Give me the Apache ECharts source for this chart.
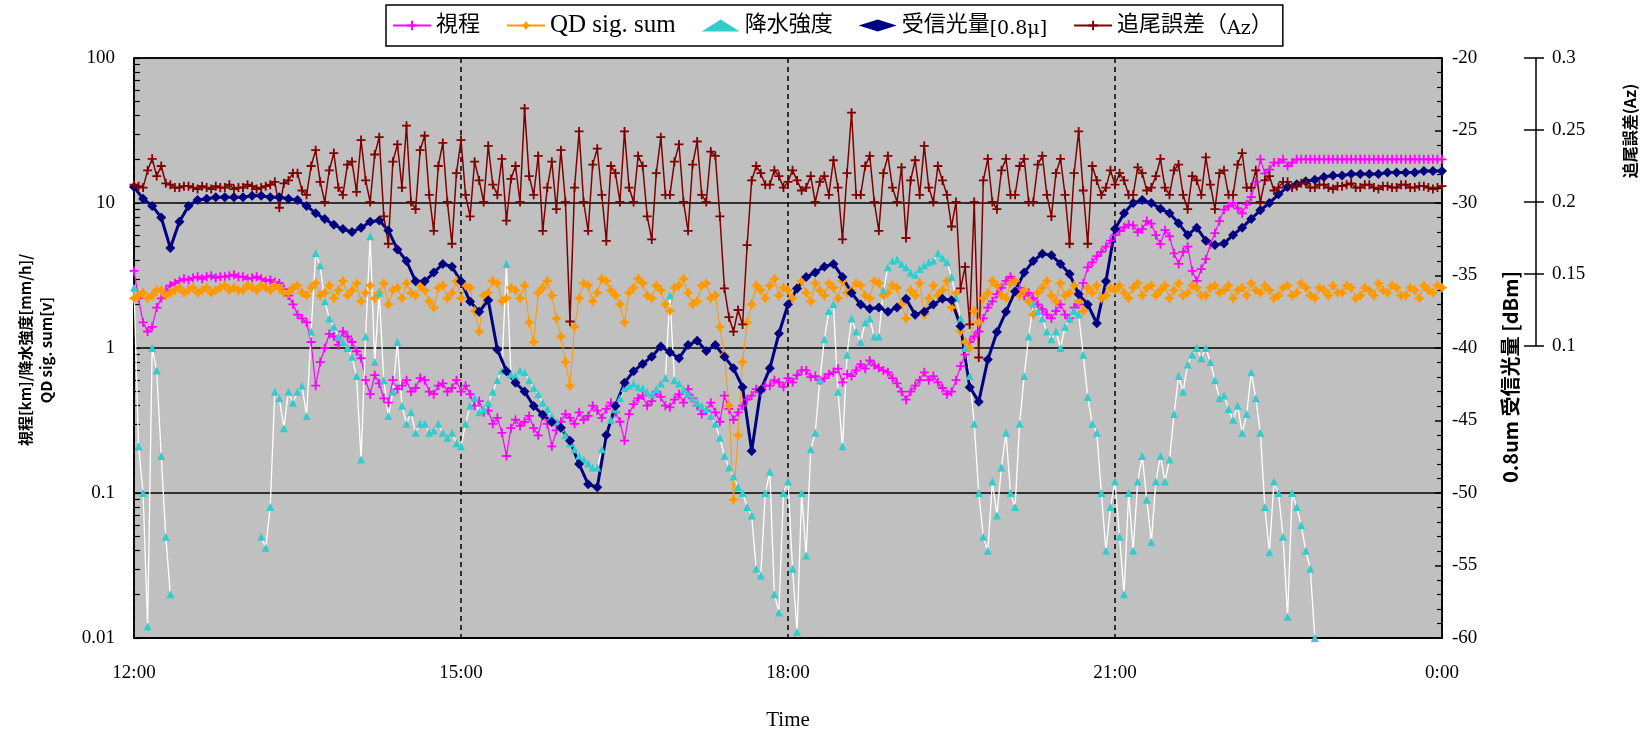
<!DOCTYPE html>
<html>
<head>
<meta charset="utf-8">
<script src="https://cdn.jsdelivr.net/npm/echarts@6/dist/echarts.min.js"></script>
<style>
  html, body { margin: 0; padding: 0; background: #fff; }
  #chart { width: 1644px; height: 736px; }
</style>
</head>
<body>
<div id="chart"></div>
<script>
// Time axis: minutes after 12:00, 0..720
const STEP_MIN = 5;      // received power
const STEP_FINE = 2.5;   // visibility, QD sum, rain rate, tracking error
const timeTickLabels = ['12:00', '15:00', '18:00', '21:00', '0:00'];

// 視程 [km], every 2.5 min (one row = 30 min)
const visibility = [
  3.4, 2.2, 1.5, 1.3, 1.4, 1.9, 2.2, 2.5, 2.7, 2.8, 2.9, 3.0,
  2.95, 3.05, 3.1, 3.0, 3.1, 3.15, 3.05, 3.1, 3.1, 3.15, 3.2, 3.1,
  3.1, 3.0, 3.05, 3.1, 3.0, 2.9, 2.95, 2.85, 2.8, 2.55, 2.3, 2.0,
  1.7, 1.6, 1.5, 1.1, 0.55, 0.8, 1.0, 1.25, 1.2, 1.05, 1.3, 1.2,
  1.1, 0.95, 0.85, 0.6, 0.48, 0.65, 0.57, 0.45, 0.42, 0.6, 0.52, 0.55,
  0.6, 0.5, 0.53, 0.62, 0.6, 0.5, 0.48, 0.55, 0.57, 0.5, 0.53, 0.6,
  0.5, 0.55, 0.48, 0.4, 0.43, 0.36, 0.37, 0.3, 0.33, 0.26, 0.18, 0.28,
  0.32, 0.29, 0.31, 0.34, 0.28, 0.25, 0.34, 0.3, 0.21, 0.27, 0.31, 0.35,
  0.33, 0.3, 0.36, 0.32, 0.34, 0.4, 0.37, 0.33, 0.38, 0.42, 0.36, 0.31,
  0.23, 0.35, 0.41, 0.45, 0.47, 0.4, 0.43, 0.5, 0.46, 0.4, 0.39, 0.44,
  0.48, 0.42, 0.52, 0.45, 0.4, 0.35, 0.37, 0.42, 0.36, 0.31, 0.47, 0.38,
  0.32, 0.36, 0.4, 0.44, 0.47, 0.52, 0.5, 0.55, 0.55, 0.6, 0.58, 0.54,
  0.62, 0.58, 0.65, 0.7, 0.7, 0.63, 0.64, 0.6, 0.62, 0.66, 0.68, 0.72,
  0.58, 0.66, 0.64, 0.7, 0.77, 0.72, 0.82, 0.76, 0.73, 0.7, 0.68, 0.62,
  0.57, 0.5, 0.44, 0.5, 0.55, 0.6, 0.68, 0.6, 0.64, 0.58, 0.53, 0.48,
  0.5, 0.6, 0.75, 0.9, 1.1, 1.2, 1.3, 1.6, 1.9, 2.1, 2.35, 2.6,
  2.9, 3.1, 2.9, 2.6, 2.3, 2.4, 2.2, 2.0, 1.85, 1.7, 1.6, 1.8,
  2.0, 1.7, 1.6, 1.9, 2.0, 2.8, 3.6, 3.9, 4.3, 4.6, 5.0, 5.5,
  6.0, 6.4, 6.8, 7.1, 7.0, 6.3, 6.6, 7.5, 7.2, 6.0, 5.2, 6.5,
  5.9, 4.5, 3.8, 4.6, 5.0, 3.4, 2.9, 3.5, 4.1, 5.2, 6.2, 7.5,
  9.0, 9.5, 10, 9.2, 8.5, 9.8, 11, 14, 20, 16, 17, 19,
  19, 20, 18, 19, 20, 20, 20, 20, 20, 20, 20, 20,
  20, 20, 20, 20, 20, 20, 20, 20, 20, 20, 20, 20,
  20, 20, 20, 20, 20, 20, 20, 20, 20, 20, 20, 20,
  20
];

// QD sig. sum [V], every 2.5 min (one row = 30 min)
const qdSigSum = [
  2.2, 2.3, 2.4, 2.2, 2.3, 2.5, 2.5, 2.3, 2.4, 2.5, 2.6, 2.4,
  2.5, 2.6, 2.4, 2.5, 2.6, 2.4, 2.5, 2.6, 2.7, 2.5, 2.6, 2.5,
  2.5, 2.7, 2.6, 2.5, 2.7, 2.6, 2.5, 2.7, 2.6, 2.4, 2.4, 2.6,
  2.7, 2.4, 2.3, 2.6, 2.8, 2.3, 2.4, 2.7, 2.2, 2.5, 2.9, 2.3,
  2.5, 2.8, 2.1, 2.4, 2.7, 2.2, 2.4, 2.8, 2.0, 2.5, 2.6, 2.2,
  2.8, 2.4, 2.3, 2.7, 2.5, 2.1, 1.9, 2.6, 2.7, 2.2, 2.4, 2.9,
  2.2, 2.7, 2.6, 1.8, 1.3, 2.3, 2.4, 2.9, 2.8, 2.1, 2.2, 2.6,
  2.5, 2.2, 2.7, 1.5, 1.1, 2.4, 2.6, 2.9, 2.3, 1.6, 1.2, 0.8,
  0.55, 1.4, 2.2, 2.8, 2.7, 2.1, 2.4, 3.0, 2.9, 2.5, 2.3, 2.0,
  1.5, 2.4, 2.6, 3.0, 2.8, 2.3, 2.2, 2.7, 2.5, 2.0, 1.8, 2.6,
  2.7, 3.0, 2.4, 2.0, 2.1, 2.7, 2.8, 2.2, 2.3, 1.4, 0.9, 0.4,
  0.09, 0.25, 0.8, 1.5, 2.0, 2.7, 2.5, 2.2, 2.7, 3.0, 2.3, 2.6,
  2.5, 2.2, 2.6, 2.9, 2.4, 2.1, 2.8, 2.5, 2.3, 2.8, 2.6, 2.2,
  2.9, 2.4, 2.5, 2.8, 2.7, 2.3, 2.2, 2.9, 2.8, 2.3, 2.4, 2.7,
  2.6, 2.0, 1.6, 2.5, 2.3, 2.8, 1.7, 2.2, 2.7, 2.3, 2.5, 2.9,
  1.9, 2.4, 1.3, 1.1, 1.0, 1.8, 1.5, 2.2, 2.4, 2.9, 2.7, 2.3,
  2.2, 2.8, 2.9, 2.3, 2.5, 2.1, 1.7, 2.4, 2.6, 2.9, 2.3, 2.1,
  2.8, 2.3, 2.4, 2.7, 2.1, 1.8, 2.6, 2.4, 2.7, 2.2, 2.3, 2.6,
  2.5, 2.7, 2.4, 2.2, 2.6, 2.8, 2.3, 2.6, 2.7, 2.3, 2.5, 2.7,
  2.2, 2.5, 2.8, 2.3, 2.4, 2.7, 2.6, 2.3, 2.3, 2.6, 2.7, 2.4,
  2.5, 2.7, 2.2, 2.5, 2.6, 2.3, 2.8, 2.5, 2.4, 2.7, 2.5, 2.2,
  2.3, 2.6, 2.7, 2.3, 2.4, 2.8, 2.6, 2.3, 2.2, 2.6, 2.5, 2.3,
  2.7, 2.4, 2.4, 2.7, 2.6, 2.2, 2.3, 2.6, 2.5, 2.3, 2.8, 2.5,
  2.4, 2.7, 2.6, 2.3, 2.3, 2.6, 2.5, 2.2, 2.7, 2.5, 2.4, 2.7,
  2.6
];

// 降水強度 [mm/h], every 2.5 min (one row = 30 min, null = no rain recorded)
const rainRate = [
  2.6, 0.21, 0.1, 0.012, 1.0, 0.7, 0.18, 0.05, 0.02, null, null, null,
  null, null, null, null, null, null, null, null, null, null, null, null,
  null, null, null, null, 0.05, 0.042, 0.08, 0.5, 0.45, 0.28, 0.5, 0.42,
  0.5, 0.55, 0.34, 1.3, 4.5, 3.7, 2.1, 1.6, 1.4, 1.2, 1.1, 1.0,
  0.87, 0.64, 0.17, 1.2, 5.9, 0.8, 2.4, 0.6, 0.34, 0.5, 1.1, 0.4,
  0.3, 0.36, 0.26, 0.3, 0.3, 0.26, 0.27, 0.3, 0.26, 0.24, 0.26, 0.22,
  0.21, 0.3, 0.4, 0.45, 0.36, 0.38, 0.42, 0.5, 0.6, 0.7, 3.8, 0.66,
  0.64, 0.7, 0.68, 0.6, 0.53, 0.48, 0.42, 0.38, 0.34, 0.31, 0.28, 0.25,
  0.22, 0.2, 0.18, 0.17, 0.16, 0.15, 0.15, 0.2, 0.26, 0.32, 0.38, 0.45,
  0.53, 0.55, 0.57, 0.54, 0.53, 0.5, 0.48, 0.52, 0.57, 0.62, 2.3, 0.6,
  0.57, 0.52, 0.48, 0.45, 0.42, 0.4, 0.38, 0.34, 0.3, 0.24, 0.18, 0.15,
  0.13, 0.11, 0.1, 0.08, 0.07, 0.03, 0.027, 0.1, 0.14, 0.02, 0.015, 0.1,
  0.12, 0.03, 0.011, 0.1, 0.037, 0.2, 0.26, 0.6, 1.15, 1.8, 2.0, 0.5,
  0.21, 0.9, 1.6, 1.3, 1.1, 1.5, 1.6, 1.2, 1.2, 2.5, 3.6, 4.0,
  4.1, 3.8, 3.6, 3.3, 3.2, 3.5, 3.7, 3.9, 4.0, 4.5, 4.2, 3.9,
  3.1, 2.2, 1.6, 1.0, 0.64, 0.3, 0.1, 0.05, 0.04, 0.12, 0.07, 0.15,
  0.26, 0.1, 0.08, 0.3, 0.64, 1.2, 2.0, 1.8, 1.6, 1.3, 1.15, 1.3,
  1.0, 1.4, 1.6, 1.8, 1.7, 0.9, 0.46, 0.3, 0.26, 0.1, 0.04, 0.08,
  0.12, 0.05, 0.02, 0.1, 0.04, 0.12, 0.18, 0.09, 0.046, 0.12, 0.18, 0.12,
  0.17, 0.35, 0.64, 0.5, 0.77, 0.9, 1.0, 0.85, 1.0, 0.8, 0.6, 0.45,
  0.47, 0.38, 0.32, 0.4, 0.26, 0.35, 0.68, 0.45, 0.26, 0.08, 0.039, 0.12,
  0.1, 0.05, 0.014, 0.1, 0.08, 0.06, 0.04, 0.03, 0.01, null, null, null,
  null, null, null, null, null, null, null, null, null, null, null, null,
  null, null, null, null, null, null, null, null, null, null, null, null,
  null
];

// 受信光量 0.8um [dBm], every 5 min
const rxPower = [
  -28.9, -29.7, -30.2, -31.0, -33.1, -31.3, -30.2, -29.8, -29.7, -29.6,
  -29.6, -29.6, -29.6, -29.5, -29.5, -29.6, -29.6, -29.7, -29.8, -30.2,
  -30.7, -31.1, -31.5, -31.8, -32.0, -31.7, -31.3, -31.2, -31.9, -33.2,
  -34.0, -35.4, -35.4, -34.8, -34.2, -34.4, -35.4, -36.8, -37.5, -36.7,
  -40.1, -41.6, -42.4, -43.0, -44.0, -44.6, -45.1, -45.5, -46.4, -48.0,
  -49.4, -49.6, -46.0, -44.0, -42.4, -41.6, -41.1, -40.6, -39.9, -40.3,
  -40.7, -39.8, -39.5, -40.2, -39.8, -40.6, -41.4, -42.7, -47.1, -42.9,
  -41.4, -39.0, -37.0, -35.9, -35.1, -34.8, -34.4, -34.2, -35.1, -36.2,
  -37.0, -37.3, -37.2, -37.5, -37.2, -36.6, -37.7, -37.5, -37.0, -36.6,
  -36.7, -38.5, -42.7, -43.7, -40.8, -38.9, -37.5, -36.1, -34.8, -34.0,
  -33.5, -33.6, -34.2, -34.9, -36.3, -37.0, -38.3, -35.4, -31.8, -30.7,
  -30.0, -29.8, -30.0, -30.4, -30.7, -31.4, -32.2, -31.7, -32.6, -32.9,
  -32.8, -32.2, -31.7, -31.1, -30.5, -30.0, -29.4, -28.9, -28.7, -28.5,
  -28.4, -28.2, -28.1, -28.1, -28.0, -28.0, -28.0, -28.0, -27.9, -27.9,
  -27.9, -27.9, -27.8, -27.8, -27.8
];

// 追尾誤差 (Az), every 2.5 min (one row = 30 min)
const trackErrAz = [
  0.212, 0.211, 0.21, 0.222, 0.23, 0.218, 0.225, 0.213, 0.212, 0.21, 0.21, 0.211,
  0.211, 0.21, 0.209, 0.211, 0.21, 0.209, 0.211, 0.21, 0.21, 0.212, 0.209, 0.21,
  0.21, 0.212, 0.211, 0.209, 0.21, 0.211, 0.212, 0.214, 0.196, 0.213, 0.215, 0.22,
  0.22, 0.208, 0.205, 0.225, 0.236, 0.214, 0.2, 0.222, 0.234, 0.21, 0.205, 0.226,
  0.228, 0.207, 0.243, 0.215, 0.2, 0.233, 0.245, 0.19, 0.171, 0.228, 0.24, 0.21,
  0.253, 0.2, 0.195, 0.236, 0.246, 0.205, 0.18, 0.225, 0.241, 0.2, 0.171, 0.22,
  0.243, 0.205, 0.19, 0.228, 0.215, 0.2, 0.239, 0.212, 0.205, 0.23, 0.187, 0.216,
  0.225, 0.2, 0.265, 0.218, 0.205, 0.232, 0.18, 0.21, 0.228, 0.195, 0.236, 0.2,
  0.117, 0.21, 0.249, 0.2, 0.18, 0.226, 0.237, 0.205, 0.173, 0.225, 0.22, 0.2,
  0.249, 0.21, 0.2, 0.232, 0.225, 0.19, 0.174, 0.22, 0.245, 0.205, 0.205, 0.228,
  0.24, 0.2, 0.18, 0.226, 0.242, 0.205, 0.2, 0.235, 0.232, 0.19, 0.14, 0.12,
  0.11, 0.125, 0.115, 0.17, 0.215, 0.225, 0.22, 0.212, 0.212, 0.222, 0.218, 0.21,
  0.214, 0.222, 0.215, 0.208, 0.21, 0.218, 0.2, 0.214, 0.218, 0.205, 0.229, 0.21,
  0.174, 0.22, 0.262, 0.205, 0.205, 0.225, 0.232, 0.2, 0.18, 0.22, 0.232, 0.21,
  0.2, 0.224, 0.175, 0.215, 0.229, 0.205, 0.239, 0.21, 0.2, 0.225, 0.215, 0.205,
  0.183, 0.2, 0.14, 0.155, 0.115, 0.2, 0.092, 0.215, 0.23, 0.2, 0.195, 0.222,
  0.23, 0.205, 0.205, 0.225, 0.23, 0.2, 0.2, 0.226, 0.232, 0.205, 0.19, 0.22,
  0.23, 0.205, 0.171, 0.22, 0.249, 0.208, 0.171, 0.225, 0.215, 0.205, 0.21, 0.222,
  0.212, 0.22, 0.215, 0.205, 0.205, 0.224, 0.22, 0.208, 0.21, 0.218, 0.23, 0.21,
  0.205, 0.222, 0.226, 0.205, 0.195, 0.218, 0.215, 0.205, 0.231, 0.212, 0.195, 0.22,
  0.222, 0.205, 0.205, 0.226, 0.234, 0.21, 0.21, 0.222, 0.2, 0.215, 0.218, 0.208,
  0.21, 0.214, 0.214, 0.21, 0.211, 0.213, 0.213, 0.21, 0.21, 0.212, 0.212, 0.21,
  0.209, 0.211, 0.211, 0.212, 0.213, 0.21, 0.21, 0.212, 0.212, 0.21, 0.209, 0.211,
  0.211, 0.21, 0.21, 0.212, 0.212, 0.21, 0.21, 0.211, 0.211, 0.21, 0.209, 0.21,
  0.211
];

const withTime = (vals, step) => vals.map((v, i) => [i * step, v]);

// marker shapes
const PLUS = 'path://M4,0H6V4H10V6H6V10H4V6H0V4H4Z';
const STAR4 = 'path://M5,0L6.8,3.2L10,5L6.8,6.8L5,10L3.2,6.8L0,5L3.2,3.2Z';

// log-axis minor tick positions (1..9 within each decade), in log10 space
const logMinor = [];
for (let d = -2; d < 2; d++) {
  for (let k = 1; k <= 9; k++) logMinor.push(d + Math.log10(k));
}
logMinor.push(2);

const SERIF = "'Liberation Serif', 'DejaVu Serif', 'Noto Sans CJK JP', serif";
const CJK = "'Noto Sans CJK JP', sans-serif";
const BLACK_LINE = { show: true, onZero: false, lineStyle: { color: '#000', width: 1.5 } };

const chart = echarts.init(document.getElementById('chart'), null, { renderer: 'canvas' });

chart.setOption({
  animation: false,
  backgroundColor: '#ffffff',
  legend: {
    left: 386,
    top: 5,
    padding: [8, 10, 7, 6],
    itemGap: 26,
    itemWidth: 38,
    itemHeight: 12,
    borderColor: '#000',
    borderWidth: 1.5,
    backgroundColor: '#fff',
    selectedMode: false,
    textStyle: {
      fontFamily: SERIF, fontSize: 22, color: '#000',
      rich: {
        l: { fontFamily: "'Liberation Serif', serif", fontSize: 25, color: '#000' },
        s: { fontFamily: "'DejaVu Serif', serif", fontSize: 19, color: '#000', padding: [8, 0, 0, 0] }
      }
    },
    formatter: name => {
      if (name === 'QD sig. sum') return '{l|QD sig. sum}';
      if (name === '受信光量[0.8μ]') return '受信光量{s|[0.8μ]}';
      if (name === '追尾誤差（Az）') return '追尾誤差（{s|Az}）';
      return name;
    },
    data: [
      { name: '視程' },
      { name: 'QD sig. sum' },
      { name: '降水強度', icon: 'triangle' },
      { name: '受信光量[0.8μ]', icon: 'diamond' },
      { name: '追尾誤差（Az）' }
    ]
  },
  grid: [
    { left: 134, right: 202, top: 58, bottom: 96, show: true,
      backgroundColor: '#c0c0c0', borderColor: '#000', borderWidth: 1.5 },
    { left: 134, right: 202, top: 58, height: 288, show: false }
  ],
  xAxis: [
    {
      type: 'value', gridIndex: 0, min: 0, max: 720, interval: 180,
      axisLine: BLACK_LINE,
      axisTick: { show: false },
      axisLabel: {
        margin: 26, color: '#000', fontFamily: SERIF, fontSize: 19,
        formatter: v => timeTickLabels[Math.round(v / 180)]
      },
      splitLine: { show: true, lineStyle: { color: '#000', type: [5, 4], width: 1.5 } },
      name: 'Time', nameLocation: 'middle', nameGap: 72,
      nameTextStyle: { fontFamily: SERIF, fontSize: 21, color: '#000' }
    },
    { type: 'value', gridIndex: 1, min: 0, max: 720, show: false }
  ],
  yAxis: [
    {
      type: 'log', gridIndex: 0, logBase: 10, min: 0.01, max: 100, position: 'left',
      axisLine: BLACK_LINE,
      axisTick: { show: false },
      axisLabel: { margin: 19, color: '#000', fontFamily: SERIF, fontSize: 19 },
      splitLine: { show: true, lineStyle: { color: '#000', width: 1.5 } }
    },
    {
      type: 'value', gridIndex: 0, min: -60, max: -20, interval: 5, position: 'right',
      axisLine: BLACK_LINE,
      axisTick: { show: true, inside: true, length: 7, lineStyle: { color: '#000', width: 1.5 } },
      minorTick: { show: true, splitNumber: 5, length: 5, lineStyle: { color: '#000', width: 1.2 } },
      axisLabel: { margin: 10, color: '#000', fontFamily: SERIF, fontSize: 19 },
      splitLine: { show: false }
    },
    {
      type: 'value', gridIndex: 1, min: 0.1, max: 0.3, interval: 0.05, position: 'right', offset: 94,
      axisLine: BLACK_LINE,
      axisTick: { show: true, inside: false, length: 8, lineStyle: { color: '#000', width: 1.5 } },
      axisLabel: { margin: 16, color: '#000', fontFamily: SERIF, fontSize: 19 },
      splitLine: { show: false }
    },
    {
      type: 'value', gridIndex: 1, min: 0.1, max: 0.3, interval: 0.05, position: 'right', offset: 94,
      axisLine: { show: false, onZero: false },
      axisTick: { show: true, inside: true, length: 12, lineStyle: { color: '#000', width: 1.5 } },
      axisLabel: { show: false },
      splitLine: { show: false }
    },
    {
      // minor ticks of the log scale, placed on log10 positions
      type: 'value', gridIndex: 0, min: -2, max: 2, position: 'left',
      axisLine: { show: false, onZero: false },
      axisTick: { show: true, inside: true, length: 6, customValues: logMinor,
        lineStyle: { color: '#000', width: 1.2 } },
      axisLabel: { show: false },
      splitLine: { show: false }
    }
  ],
  series: [
    {
      name: '視程', type: 'line', xAxisIndex: 0, yAxisIndex: 0,
      data: withTime(visibility, STEP_FINE),
      symbol: PLUS, symbolSize: 9,
      itemStyle: { color: '#ff00ff' },
      lineStyle: { color: '#ff00ff', width: 1.2 },
      emphasis: { disabled: true }, silent: true
    },
    {
      name: 'QD sig. sum', type: 'line', xAxisIndex: 0, yAxisIndex: 0,
      data: withTime(qdSigSum, STEP_FINE),
      symbol: STAR4, symbolSize: 11,
      itemStyle: { color: '#ff9900' },
      lineStyle: { color: '#ff9900', width: 1 },
      emphasis: { disabled: true }, silent: true
    },
    {
      name: '降水強度', type: 'line', xAxisIndex: 0, yAxisIndex: 0,
      data: withTime(rainRate, STEP_FINE),
      connectNulls: false,
      symbol: 'triangle', symbolSize: 8,
      itemStyle: { color: '#33cccc' },
      lineStyle: { color: '#ffffff', width: 1.3 },
      emphasis: { disabled: true }, silent: true
    },
    {
      name: '受信光量[0.8μ]', type: 'line', xAxisIndex: 0, yAxisIndex: 1,
      data: withTime(rxPower, STEP_MIN),
      symbol: 'diamond', symbolSize: 10,
      itemStyle: { color: '#000080' },
      lineStyle: { color: '#000080', width: 3 },
      emphasis: { disabled: true }, silent: true
    },
    {
      name: '追尾誤差（Az）', type: 'line', xAxisIndex: 1, yAxisIndex: 2,
      data: withTime(trackErrAz, STEP_FINE),
      clip: false,
      symbol: PLUS, symbolSize: 9,
      itemStyle: { color: '#800000' },
      lineStyle: { color: '#800000', width: 1.5 },
      emphasis: { disabled: true }, silent: true
    }
  ],
  graphic: [
    {
      type: 'text', x: 36, y: 350, rotation: Math.PI / 2,
      style: {
        text: '視程[km]/降水強度[mm/h]/\nQD sig. sum[v]',
        font: 'bold 15px ' + CJK, fill: '#000',
        align: 'center', verticalAlign: 'middle', lineHeight: 21
      }
    },
    {
      type: 'text', x: 1510, y: 377, rotation: Math.PI / 2,
      style: {
        text: '0.8um 受信光量 [dBm]',
        font: 'bold 20px ' + CJK, fill: '#000',
        align: 'center', verticalAlign: 'middle'
      }
    },
    {
      type: 'text', x: 1630, y: 131, rotation: Math.PI / 2,
      style: {
        text: '追尾誤差(Az)',
        font: 'bold 16px ' + CJK, fill: '#000',
        align: 'center', verticalAlign: 'middle'
      }
    }
  ]
});
</script>
</body>
</html>
